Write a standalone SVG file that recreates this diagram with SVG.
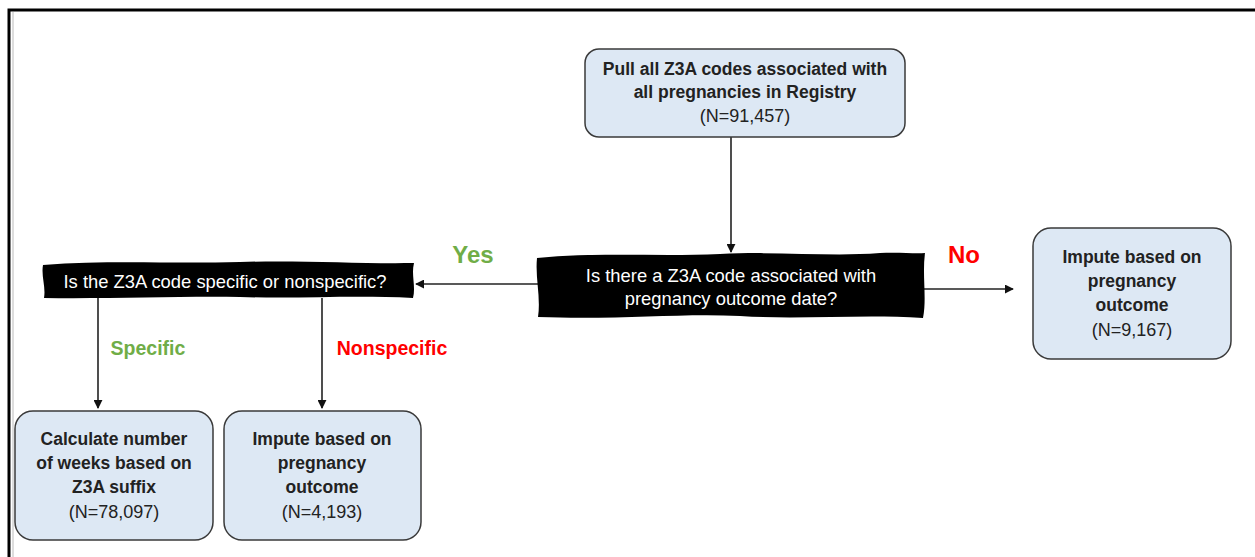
<svg xmlns="http://www.w3.org/2000/svg" width="1255" height="557" viewBox="0 0 1255 557">
<defs>
<style>
.box{fill:#dde8f4;stroke:#3a3a3a;stroke-width:1.5}
.bt{font-family:"Liberation Sans",Arial,sans-serif;font-weight:bold;font-size:17.5px;fill:#222;text-anchor:middle}
.nt{font-family:"Liberation Sans",Arial,sans-serif;font-size:18px;fill:#222;text-anchor:middle}
.dt{font-family:"Liberation Sans",Arial,sans-serif;font-size:18.4px;fill:#fff;text-anchor:middle}
.ln{stroke:#222;stroke-width:1.6;fill:none;marker-end:url(#ah)}
.lbl{font-family:"Liberation Sans",Arial,sans-serif;font-weight:bold;text-anchor:middle}
</style>
<marker id="ah" viewBox="0 0 10 10" refX="9" refY="5" markerWidth="9" markerHeight="9" orient="auto" markerUnits="userSpaceOnUse">
<path d="M0,0 L10,5 L0,10 z" fill="#111"/>
</marker>
</defs>
<rect width="1255" height="557" fill="#fff"/>
<path d="M9,557 L9,10 L1255,10" fill="none" stroke="#000" stroke-width="3"/>
<line x1="13" y1="12" x2="13" y2="557" stroke="#ddd" stroke-width="2"/>
<g id="connectors">
<line class="ln" x1="731" y1="137" x2="731" y2="252"/>
<line class="ln" x1="538" y1="284" x2="416" y2="284"/>
<line class="ln" x1="924" y1="289" x2="1013" y2="289"/>
<line class="ln" x1="98" y1="298" x2="98" y2="408"/>
<line class="ln" x1="322" y1="298" x2="322" y2="408"/>
</g>
<g id="labels">
<text class="lbl" x="473" y="263" font-size="24" fill="#70ad47">Yes</text>
<text class="lbl" x="964" y="263" font-size="24" fill="#ff0000">No</text>
<text class="lbl" x="148" y="355" font-size="19.5" fill="#70ad47">Specific</text>
<text class="lbl" x="392" y="355" font-size="19.5" fill="#ff0000">Nonspecific</text>
</g>
<g id="start">
<rect class="box" x="585" y="49" width="320" height="88" rx="14"/>
<text class="bt" x="745" y="75">Pull all Z3A codes associated with</text>
<text class="bt" x="745" y="98">all pregnancies in Registry</text>
<text class="nt" x="745" y="122">(N=91,457)</text>
</g>
<g id="decision1">
<path d="M537,258 C600,252 660,257 720,254 C780,251 830,257 880,253 C900,252 915,254 925,253 C922,275 927,298 923,318 C860,314 800,320 740,316 C680,313 620,320 538,317 C541,297 535,278 537,258 Z" fill="#000"/>
<text class="dt" x="731" y="282">Is there a Z3A code associated with</text>
<text class="dt" x="731" y="305">pregnancy outcome date?</text>
</g>
<g id="decision2">
<path d="M43,265 C110,260 170,264 240,262 C300,260 360,264 414,263 C411,275 416,286 413,298 C350,295 300,299 240,297 C180,296 110,299 44,298 C46,287 41,276 43,265 Z" fill="#000"/>
<text class="dt" x="225" y="288">Is the Z3A code specific or nonspecific?</text>
</g>
<g id="imputeNo">
<rect class="box" x="1033" y="228" width="198" height="131" rx="18"/>
<text class="bt" x="1132" y="263">Impute based on</text>
<text class="bt" x="1132" y="287">pregnancy</text>
<text class="bt" x="1132" y="311">outcome</text>
<text class="nt" x="1132" y="336">(N=9,167)</text>
</g>
<g id="calc">
<rect class="box" x="15" y="411" width="198" height="129" rx="18"/>
<text class="bt" x="114" y="445">Calculate number</text>
<text class="bt" x="114" y="469">of weeks based on</text>
<text class="bt" x="114" y="493">Z3A suffix</text>
<text class="nt" x="114" y="518">(N=78,097)</text>
</g>
<g id="imputeNonspec">
<rect class="box" x="224" y="411" width="197" height="129" rx="18"/>
<text class="bt" x="322" y="445">Impute based on</text>
<text class="bt" x="322" y="469">pregnancy</text>
<text class="bt" x="322" y="493">outcome</text>
<text class="nt" x="322" y="518">(N=4,193)</text>
</g>
</svg>
